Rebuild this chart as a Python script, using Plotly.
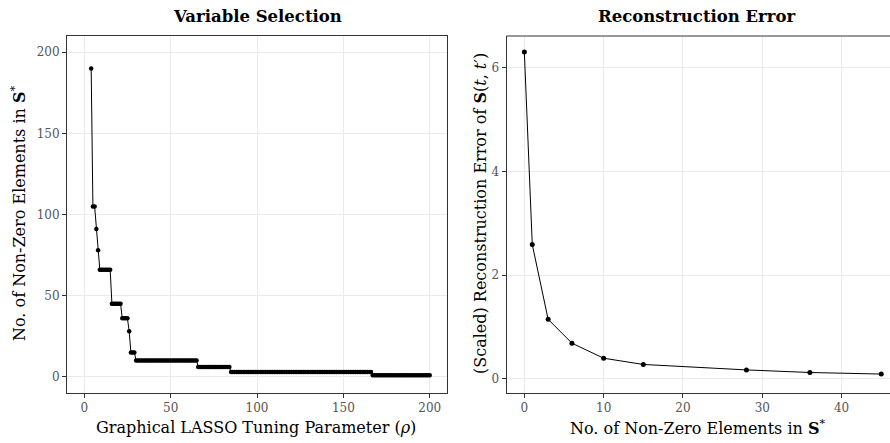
import plotly.graph_objects as go

# ---- Left panel data (step runs) ----
nz_levels = [190, 105, 91, 78, 66, 45, 36, 28, 15, 10, 6, 3, 1]
rho_start = [4, 5, 7, 8, 9, 16, 22, 26, 27, 30, 66, 85, 167]
rho_end = [4, 6, 7, 8, 15, 21, 25, 26, 29, 65, 84, 166, 200]

rho = []
nz = []
for lv, a, b in zip(nz_levels, rho_start, rho_end):
    for r in range(a, b + 1):
        rho.append(r)
        nz.append(lv)

# ---- Right panel data ----
n_nonzero = [0, 1, 3, 6, 10, 15, 28, 36, 45]
recon_err = [6.30, 2.59, 1.15, 0.69, 0.40, 0.28, 0.175, 0.125, 0.095]

left_xticks = [0, 50, 100, 150, 200]
left_yticks = [0, 50, 100, 150, 200]
right_xticks = [0, 10, 20, 30, 40]
right_yticks = [0, 2, 4, 6]

W, H = 890, 443
FONT = "DejaVu Serif"
GRID = "#ebebeb"
BORDER = "#333333"
TICKC = "#555555"

def px(v):
    return v / W

def py(v):
    return 1 - v / H

fig = go.Figure()
fig.add_trace(go.Scatter(x=rho, y=nz, mode="lines+markers",
                         line=dict(color="black", width=1),
                         marker=dict(color="black", size=4.5),
                         xaxis="x", yaxis="y", showlegend=False))
fig.add_trace(go.Scatter(x=n_nonzero, y=recon_err, mode="lines+markers",
                         line=dict(color="black", width=1),
                         marker=dict(color="black", size=5),
                         xaxis="x2", yaxis="y2", showlegend=False))

ax_common = dict(showgrid=True, gridcolor=GRID, gridwidth=1, zeroline=False,
                 ticks="outside", ticklen=4, tickcolor=BORDER, tickwidth=1,
                 showline=True, linecolor=BORDER, linewidth=1,
                 tickfont=dict(family=FONT, size=12, color=TICKC))

L0, L1 = 67, 447
R0, R1 = 506.5, 890
T0, B0 = 36, 393

fig.update_layout(
    width=W, height=H,
    margin=dict(l=0, r=0, t=0, b=0),
    paper_bgcolor="white", plot_bgcolor="white",
    xaxis=dict(domain=[px(L0), px(L1)], range=[-10, 210], tickvals=left_xticks,
               mirror=True, anchor="y", **ax_common),
    yaxis=dict(domain=[py(B0), py(T0)], range=[-10, 210], tickvals=left_yticks,
               mirror=True, anchor="x", **ax_common),
    xaxis2=dict(domain=[px(R0), 1.0], range=[-2.25, 46.1], tickvals=right_xticks,
                mirror=False, anchor="y2", **ax_common),
    yaxis2=dict(domain=[py(B0), py(T0)], range=[-0.27, 6.61], tickvals=right_yticks,
                mirror=False, anchor="x2", **ax_common),
)

# top border of right panel (right side is cut off in the reference)
fig.add_shape(type="line", xref="paper", yref="paper",
              x0=px(R0), x1=1.0, y0=py(T0), y1=py(T0),
              line=dict(color=BORDER, width=1))

ann = []
ann.append(dict(text="<b>Variable Selection</b>", x=px(257), y=py(16),
                font=dict(family=FONT, size=16.5, color="black")))
ann.append(dict(text="<b>Reconstruction Error</b>", x=px(697), y=py(16),
                font=dict(family=FONT, size=16.5, color="black")))
ann.append(dict(text="Graphical LASSO Tuning Parameter (<i>ρ</i>)", x=px(256), y=py(427),
                font=dict(family=FONT, size=16, color="black")))
ann.append(dict(text="No. of Non-Zero Elements in <b>S</b><sup>*</sup>", x=px(697), y=py(427),
                font=dict(family=FONT, size=16, color="black")))
ann.append(dict(text="No. of Non-Zero Elements in <b>S</b><sup>*</sup>", x=px(19), y=py(214),
                textangle=-90, font=dict(family=FONT, size=16, color="black")))
ann.append(dict(text="(Scaled) Reconstruction Error of <b>S</b>(<i>t</i>, <i>t</i>′)", x=px(481), y=py(214),
                textangle=-90, font=dict(family=FONT, size=16, color="black")))
for a in ann:
    a.update(xref="paper", yref="paper", showarrow=False, xanchor="center", yanchor="middle")
fig.update_layout(annotations=ann)

fig.write_html("out.html", config={"displayModeBar": False},
               post_script="document.body.style.margin='0';")
